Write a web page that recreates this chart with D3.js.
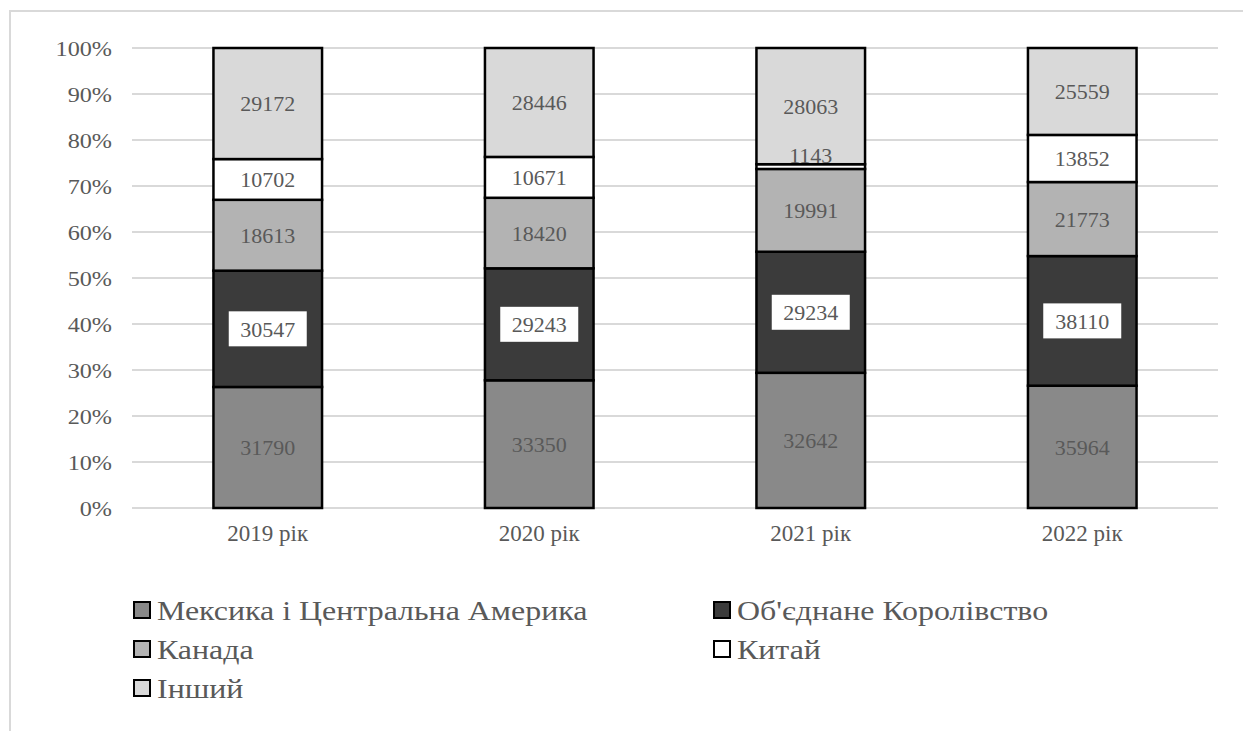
<!DOCTYPE html>
<html>
<head>
<meta charset="utf-8">
<script src="https://cdn.jsdelivr.net/npm/d3@7"></script>
<style>
  html, body { margin: 0; padding: 0; background: #fff; }
  svg { display: block; }
</style>
</head>
<body>
<svg id="chart" width="1243" height="731"></svg>
<script>
// Years on the category axis
const years = ["2019 рік", "2020 рік", "2021 рік", "2022 рік"];

// Series, stacked bottom to top
const seriesNames = ["Мексика і Центральна Америка", "Об'єднане Королівство", "Канада", "Китай", "Інший"];
const mexico = [31790, 33350, 32642, 35964];
const uk = [30547, 29243, 29234, 38110];
const canada = [18613, 18420, 19991, 21773];
const china = [10702, 10671, 1143, 13852];
const other = [29172, 28446, 28063, 25559];

const yTicks = [0, 0.1, 0.2, 0.3, 0.4, 0.5, 0.6, 0.7, 0.8, 0.9, 1];

const seriesValues = [mexico, uk, canada, china, other];
const fills = ["#898989", "#3b3b3b", "#b3b3b3", "#ffffff", "#d9d9d9"];
const FONT = "Liberation Serif";
const TEXT = "#595959";

const rows = years.map((y, i) => {
  const r = { year: y };
  seriesNames.forEach((s, k) => { r[s] = seriesValues[k][i]; });
  return r;
});

const stacked = d3.stack().keys(seriesNames).offset(d3.stackOffsetExpand)(rows);

const svg = d3.select("#chart");
const plot = { left: 132, right: 1218, top: 48, bottom: 508 };

// Chart frame
svg.append("path")
  .attr("d", `M10,731 L10,11 L1243,11`)
  .attr("fill", "none").attr("stroke", "#d9d9d9").attr("stroke-width", 2);

const x = d3.scaleBand().domain(years).range([plot.left, plot.right])
  .paddingInner(0.6).paddingOuter(0.3);
const y = d3.scaleLinear().domain([0, 1]).range([plot.bottom, plot.top]);

// Gridlines
svg.append("g").selectAll("line").data(yTicks).join("line")
  .attr("x1", plot.left).attr("x2", plot.right)
  .attr("y1", d => y(d)).attr("y2", d => y(d))
  .attr("stroke", "#d9d9d9").attr("stroke-width", 2);

// Y axis labels (slightly widened glyphs)
const yAxis = d3.axisLeft(y).tickValues(yTicks).tickFormat(d3.format(".0%")).tickSize(0).tickPadding(0);
const yg = svg.append("g").attr("transform", `translate(${plot.left - 20},0)`).call(yAxis)
  .attr("font-family", FONT);
yg.select(".domain").remove();
yg.selectAll("text").attr("font-size", 22).attr("fill", TEXT).attr("font-family", FONT)
  .attr("x", 0).attr("transform", "scale(1.1,1)");

// X axis labels
const xAxis = d3.axisBottom(x).tickSize(0).tickPadding(17);
const xg = svg.append("g").attr("transform", `translate(0,${plot.bottom})`).call(xAxis)
  .attr("font-family", FONT);
xg.select(".domain").remove();
xg.selectAll("text").attr("font-size", 23).attr("fill", TEXT).attr("font-family", FONT);

// Stacked bars
const layers = svg.append("g").selectAll("g").data(stacked).join("g")
  .attr("fill", (d, i) => fills[i]);
layers.selectAll("rect").data(d => d).join("rect")
  .attr("x", d => x(d.data.year))
  .attr("width", x.bandwidth())
  .attr("y", d => y(d[1]))
  .attr("height", d => y(d[0]) - y(d[1]))
  .attr("stroke", "#000").attr("stroke-width", 2.5);

// Value labels (thin segments get their label lifted above the segment)
stacked.forEach((layer, k) => {
  const g = svg.append("g");
  layer.forEach(d => {
    const cx = x(d.data.year) + x.bandwidth() / 2;
    const h = y(d[0]) - y(d[1]);
    const cy = h < 20 ? y(d[1]) - 9 : (y(d[0]) + y(d[1])) / 2;
    const val = seriesValues[k][years.indexOf(d.data.year)];
    if (k === 1) {
      g.append("rect").attr("x", cx - 39).attr("y", cy - 17.5)
        .attr("width", 78).attr("height", 35).attr("fill", "#fff");
    }
    g.append("text").attr("x", cx).attr("y", cy).attr("dy", "0.35em")
      .attr("text-anchor", "middle").attr("font-size", 22)
      .attr("font-family", FONT).attr("fill", TEXT)
      .text(val);
  });
});

// Legend
const legendPos = [
  [134, 610], [714, 610],
  [134, 649], [714, 649],
  [134, 688]
];
const lg = svg.append("g");
seriesNames.forEach((s, i) => {
  const [lx, ly] = legendPos[i];
  lg.append("rect").attr("x", lx).attr("y", ly - 8).attr("width", 16).attr("height", 16)
    .attr("fill", fills[i]).attr("stroke", "#000").attr("stroke-width", 2);
  lg.append("text")
    .attr("transform", `translate(${lx + 23},${ly}) scale(1.14,1)`)
    .attr("dy", "0.35em")
    .attr("font-size", 28).attr("font-family", FONT).attr("fill", TEXT).text(s);
});
</script>
</body>
</html>
